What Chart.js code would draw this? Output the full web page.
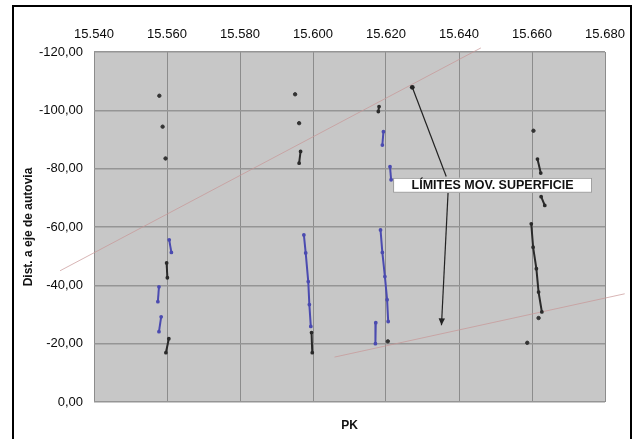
<!DOCTYPE html>
<html>
<head>
<meta charset="utf-8">
<script src="https://cdn.jsdelivr.net/npm/chart.js@4/dist/chart.umd.min.js"></script>
<style>
  html, body { margin: 0; padding: 0; background: #fff; overflow: hidden; }
  #wrap { position: relative; width: 638px; height: 439px; }
  #frame { position: absolute; left: 12px; top: 5px; width: 616px; height: 440px;
           border: 2px solid #000; pointer-events: none; }
</style>
</head>
<body>
<div id="wrap">
  <canvas id="c" width="638" height="439"></canvas>
  <div id="frame"></div>
</div>
<script>
// Axis ranges (PK along the road, distance to the motorway axis)
const pkMin = 15.54, pkMax = 15.68, pkStep = 0.02;
const distMin = -120, distMax = 0, distStep = 20;

// Isolated survey points
const dotPK   = [15.5579, 15.5588, 15.5596, 15.5951, 15.5962, 15.6205, 15.6604, 15.6618, 15.6587];
const dotDist = [-105.0,  -94.4,   -83.5,   -105.5,  -95.6,   -20.8,   -93.0,   -28.8,   -20.3];

// Blue displacement segments: [PK values], [distances]
const blueSegments = [
  [[15.5606, 15.5612], [-55.6, -51.3]],
  [[15.5578, 15.5575], [-39.5, -34.4]],
  [[15.5584, 15.5578], [-29.2, -24.1]],
  [[15.5975, 15.5980, 15.5987, 15.5990, 15.5994], [-57.3, -51.1, -41.3, -33.4, -25.9]],
  [[15.6193, 15.6190], [-92.7, -88.1]],
  [[15.6211, 15.6214], [-80.7, -76.2]],
  [[15.6185, 15.6190, 15.6197, 15.6203, 15.6206], [-59.0, -51.3, -43.0, -35.1, -27.6]],
  [[15.6172, 15.6171], [-27.2, -20.0]]
];

// Black displacement segments: [PK values], [distances]
const blackSegments = [
  [[15.5599, 15.5601], [-47.7, -42.6]],
  [[15.5605, 15.5597], [-21.7, -16.9]],
  [[15.5966, 15.5962], [-85.9, -81.9]],
  [[15.5996, 15.5998], [-23.8, -16.9]],
  [[15.6181, 15.6179], [-101.3, -99.6]],
  [[15.6615, 15.6624], [-83.3, -78.5]],
  [[15.6625, 15.6635], [-70.4, -67.4]],
  [[15.6598, 15.6603, 15.6612, 15.6618, 15.6627], [-61.1, -53.1, -45.7, -37.7, -30.9]]
];

// Limits of the surface movement
const upperLimitPK   = [15.5307, 15.6460];
const upperLimitDist = [-45.0, -121.4];
const lowerLimitPK   = [15.6059, 15.6854];
const lowerLimitDist = [-15.4, -37.1];

const limitLabel = 'LÍMITES MOV. SUPERFICIE';

const toPoints = (xs, ys) => xs.map((x, i) => ({ x, y: ys[i] }));

const datasets = [];
const segStyle = (color) => ({
  showLine: true, borderColor: color, backgroundColor: color,
  borderWidth: 2, pointRadius: 0.9, pointHoverRadius: 0.9, order: 1
});
blueSegments.forEach(([xs, ys]) => datasets.push({ data: toPoints(xs, ys), ...segStyle('#4b4bb0') }));
blackSegments.forEach(([xs, ys]) => datasets.push({ data: toPoints(xs, ys), ...segStyle('#2a2a2a') }));
datasets.push({
  data: toPoints(dotPK, dotDist), showLine: false,
  pointRadius: 1.7, backgroundColor: '#333', borderColor: '#333', order: 0
});
[[upperLimitPK, upperLimitDist], [lowerLimitPK, lowerLimitDist]].forEach(([xs, ys]) => datasets.push({
  data: toPoints(xs, ys), showLine: true, borderColor: 'rgba(200,150,150,0.7)',
  borderWidth: 1, pointRadius: 0, clip: false, order: 5
}));

// Grey plot background
const plotBackground = {
  id: 'plotBackground',
  beforeDraw(chart) {
    const { ctx, chartArea: a } = chart;
    ctx.save();
    ctx.fillStyle = '#c7c7c7';
    ctx.fillRect(a.left, a.top, a.right - a.left, a.bottom - a.top);
    ctx.restore();
  }
};

// Callout box with two arrows pointing at the limit lines
const limitCallout = {
  id: 'limitCallout',
  afterDatasetsDraw(chart, args, opts) {
    const { ctx } = chart;
    const xs = chart.scales.x, ys = chart.scales.y;
    const px = (p) => [xs.getPixelForValue(p[0]), ys.getPixelForValue(p[1])];
    ctx.save();
    ctx.strokeStyle = '#222';
    ctx.fillStyle = '#222';
    ctx.lineWidth = 1.2;
    opts.arrows.forEach(ar => {
      const [x1, y1] = px(ar.from), [x2, y2] = px(ar.to);
      ctx.beginPath(); ctx.moveTo(x1, y1); ctx.lineTo(x2, y2); ctx.stroke();
      const ang = Math.atan2(y2 - y1, x2 - x1);
      if (ar.head === 'dot') {
        ctx.beginPath(); ctx.arc(x2, y2, 2.4, 0, Math.PI * 2); ctx.fill();
      } else {
        const L = 7, W = 3.2;
        ctx.beginPath();
        ctx.moveTo(x2, y2);
        ctx.lineTo(x2 - L * Math.cos(ang) + W * Math.sin(ang), y2 - L * Math.sin(ang) - W * Math.cos(ang));
        ctx.lineTo(x2 - L * Math.cos(ang) - W * Math.sin(ang), y2 - L * Math.sin(ang) + W * Math.cos(ang));
        ctx.closePath(); ctx.fill();
      }
    });
    const [cx, cy] = px(opts.labelAt);
    ctx.font = 'bold 12.5px "Liberation Sans", Arial, sans-serif';
    const w = 199, h = 15;
    ctx.fillStyle = '#fff';
    ctx.fillRect(cx - w / 2, cy - h / 2, w, h);
    ctx.strokeStyle = '#9a9a9a';
    ctx.lineWidth = 1;
    ctx.strokeRect(cx - w / 2 + 0.5, cy - h / 2 + 0.5, w - 1, h - 1);
    ctx.fillStyle = '#111';
    ctx.textAlign = 'center';
    ctx.textBaseline = 'middle';
    ctx.fillText(limitLabel, cx, cy + 0.5);
    ctx.restore();
  }
};

const tickFont = { family: '"Liberation Sans", Arial, sans-serif', size: 13 };

new Chart(document.getElementById('c'), {
  type: 'scatter',
  data: { datasets },
  plugins: [plotBackground, limitCallout],
  options: {
    responsive: false,
    animation: false,
    layout: { padding: { left: 14, right: 33, top: 10, bottom: 0 } },
    plugins: {
      legend: { display: false },
      tooltip: { enabled: false },
      limitCallout: {
        labelAt: [15.6492, -74.3],
        arrows: [
          { from: [15.6365, -77.3], to: [15.6272, -107.9], head: 'dot' },
          { from: [15.6370, -71.7], to: [15.6352, -26.3], head: 'tri' }
        ]
      }
    },
    scales: {
      x: {
        type: 'linear', position: 'top', min: pkMin, max: pkMax,
        ticks: { stepSize: pkStep, color: '#0a0a0a', font: tickFont, padding: 10,
                 maxRotation: 0, callback: v => v.toFixed(3) },
        grid: { color: '#8c8c8c', lineWidth: 1, drawTicks: false },
        border: { display: false },
        afterFit: s => { s.height = 42; }
      },
      xb: {
        type: 'linear', position: 'bottom', min: pkMin, max: pkMax,
        ticks: { display: false },
        grid: { display: false, drawTicks: false },
        border: { display: false },
        title: { display: true, text: 'PK', color: '#111',
                 font: { family: '"Liberation Sans", Arial, sans-serif', size: 12, weight: 'bold' },
                 padding: { top: 0, bottom: 6 } },
        afterFit: s => { s.height = 37; }
      },
      y: {
        type: 'linear', reverse: true, min: distMin, max: distMax,
        ticks: { stepSize: distStep, color: '#0a0a0a', font: tickFont, padding: 11,
                 callback: v => v.toFixed(2).replace('.', ',') },
        grid: { color: '#959595', lineWidth: 1.6, drawTicks: false },
        border: { display: false },
        title: { display: true, text: 'Dist. a eje de autovia', color: '#111',
                 font: { family: '"Liberation Sans", Arial, sans-serif', size: 12, weight: 'bold' },
                 padding: { top: 7, bottom: 0 } },
        afterFit: s => { s.width = 80; }
      }
    }
  }
});
</script>
</body>
</html>
